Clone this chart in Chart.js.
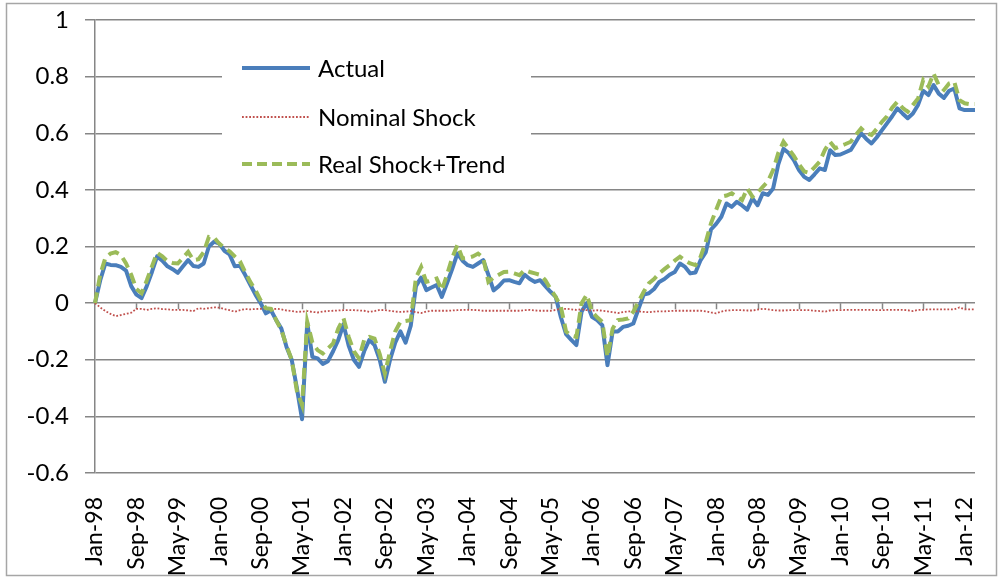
<!DOCTYPE html>
<html><head><meta charset="utf-8">
<script src="https://cdn.jsdelivr.net/npm/chart.js@4.4.1/dist/chart.umd.min.js"></script>
<style>html,body{margin:0;padding:0;background:#fff;}canvas{display:block;}</style>
</head><body>
<canvas id="c" width="1002" height="577"></canvas>
<script>
const monthNames = ['Jan','Feb','Mar','Apr','May','Jun','Jul','Aug','Sep','Oct','Nov','Dec'];
const categories = [];
for (let k = 0; k < 171; k++) {
  const yr = 1998 + Math.floor(k / 12);
  categories.push(monthNames[k % 12] + '-' + String(yr % 100).padStart(2, '0'));
}
const labelEvery = 8;
const seriesNames = ['Actual', 'Nominal Shock', 'Real Shock+Trend'];
const yTickValues = [-0.6, -0.4, -0.2, 0, 0.2, 0.4, 0.6, 0.8, 1];

const actual = [
 0.00,0.08,0.14,0.135,0.134,0.128,0.115,0.06,0.03,0.018,
 0.06,0.11,0.165,0.15,0.13,0.12,0.107,0.13,0.152,0.131,
 0.128,0.14,0.20,0.217,0.21,0.185,0.172,0.13,0.132,0.1,
 0.065,0.03,0.0,-0.036,-0.025,-0.06,-0.09,-0.155,-0.2,-0.3,
 -0.41,-0.07,-0.19,-0.195,-0.215,-0.205,-0.17,-0.13,-0.075,-0.15,
 -0.2,-0.225,-0.17,-0.13,-0.148,-0.2,-0.278,-0.2,-0.14,-0.1,
 -0.14,-0.08,0.06,0.09,0.046,0.055,0.064,0.022,0.07,0.12,
 0.175,0.15,0.134,0.128,0.14,0.152,0.1,0.045,0.06,0.08,
 0.081,0.075,0.07,0.1,0.085,0.075,0.081,0.06,0.04,0.022,
 -0.05,-0.11,-0.13,-0.148,-0.03,0.0,-0.048,-0.06,-0.078,-0.219,
 -0.1,-0.1,-0.084,-0.08,-0.072,-0.02,0.03,0.035,0.05,0.075,
 0.085,0.1,0.11,0.14,0.128,0.105,0.108,0.152,0.18,0.26,
 0.28,0.305,0.352,0.34,0.358,0.345,0.33,0.37,0.346,0.388,
 0.382,0.405,0.49,0.545,0.53,0.505,0.47,0.446,0.435,0.455,
 0.476,0.47,0.54,0.523,0.525,0.533,0.541,0.57,0.6,0.58,
 0.564,0.585,0.61,0.635,0.66,0.688,0.67,0.653,0.67,0.7,
 0.75,0.735,0.77,0.74,0.725,0.75,0.758,0.688,0.682,0.682,
 0.682
];
const nominalShock = [
 0,-0.015,-0.028,-0.038,-0.046,-0.042,-0.038,-0.034,-0.02,-0.02,
 -0.024,-0.02,-0.018,-0.021,-0.022,-0.024,-0.024,-0.024,-0.026,-0.028,
 -0.018,-0.02,-0.018,-0.015,-0.016,-0.021,-0.025,-0.03,-0.025,-0.021,
 -0.022,-0.021,-0.02,-0.019,-0.022,-0.02,-0.022,-0.026,-0.028,-0.031,
 -0.03,-0.028,-0.031,-0.033,-0.03,-0.028,-0.027,-0.026,-0.025,-0.025,
 -0.025,-0.026,-0.027,-0.031,-0.028,-0.024,-0.025,-0.027,-0.03,-0.031,
 -0.03,-0.028,-0.032,-0.035,-0.03,-0.027,-0.027,-0.027,-0.027,-0.026,
 -0.025,-0.024,-0.024,-0.024,-0.025,-0.027,-0.027,-0.027,-0.027,-0.027,
 -0.027,-0.027,-0.027,-0.025,-0.024,-0.026,-0.027,-0.027,-0.027,-0.024,
 -0.02,-0.02,-0.022,-0.024,-0.022,-0.025,-0.027,-0.025,-0.027,-0.029,
 -0.032,-0.035,-0.032,-0.029,-0.029,-0.029,-0.031,-0.032,-0.03,-0.029,
 -0.029,-0.028,-0.027,-0.027,-0.027,-0.027,-0.027,-0.027,-0.029,-0.033,
 -0.036,-0.03,-0.026,-0.025,-0.025,-0.025,-0.026,-0.026,-0.023,-0.02,
 -0.022,-0.025,-0.026,-0.026,-0.025,-0.025,-0.025,-0.025,-0.025,-0.027,
 -0.028,-0.03,-0.026,-0.025,-0.025,-0.024,-0.024,-0.024,-0.024,-0.024,
 -0.024,-0.025,-0.025,-0.024,-0.024,-0.024,-0.024,-0.025,-0.028,-0.024,
 -0.024,-0.022,-0.022,-0.022,-0.022,-0.022,-0.022,-0.015,-0.022,-0.022,
 -0.022
];
const realShockTrend = [
 0.0,0.1,0.16,0.175,0.18,0.17,0.14,0.1,0.05,0.035,
 0.08,0.13,0.178,0.165,0.148,0.142,0.14,0.16,0.181,0.152,
 0.155,0.18,0.234,0.232,0.21,0.195,0.183,0.165,0.148,0.11,
 0.075,0.046,0.01,-0.018,-0.02,-0.06,-0.095,-0.15,-0.2,-0.31,
 -0.36,-0.066,-0.14,-0.166,-0.178,-0.16,-0.142,-0.09,-0.053,-0.119,
 -0.17,-0.195,-0.13,-0.119,-0.125,-0.18,-0.249,-0.17,-0.1,-0.066,
 -0.063,-0.06,0.09,0.128,0.075,0.08,0.087,0.046,0.1,0.16,
 0.205,0.158,0.16,0.165,0.175,0.16,0.075,0.09,0.1,0.11,
 0.111,0.105,0.099,0.117,0.11,0.105,0.1,0.081,0.05,0.022,
 -0.013,-0.1,-0.115,-0.119,0.0,0.03,-0.03,-0.05,-0.066,-0.19,
 -0.09,-0.06,-0.058,-0.054,-0.03,0.005,0.04,0.07,0.085,0.105,
 0.12,0.134,0.15,0.164,0.15,0.14,0.134,0.164,0.217,0.282,
 0.33,0.376,0.38,0.388,0.375,0.364,0.405,0.376,0.39,0.411,
 0.43,0.47,0.53,0.57,0.545,0.52,0.49,0.465,0.46,0.48,
 0.5,0.541,0.57,0.547,0.555,0.562,0.57,0.595,0.617,0.6,
 0.594,0.615,0.64,0.66,0.69,0.711,0.69,0.676,0.7,0.723,
 0.788,0.765,0.811,0.77,0.753,0.776,0.782,0.717,0.706,0.703,
 0.703
];

const COLORS = { actual: '#4A7EBB', nominal: '#C0504D', real: '#9BBB59', grid: '#868686' };
const FONT = 'Lato';

const deco = {
  id: 'deco',
  beforeDatasetsDraw(chart) {
    const { ctx, scales: { x, y } } = chart;
    const y0 = y.getPixelForValue(0);
    ctx.save();
    ctx.strokeStyle = COLORS.grid;
    ctx.lineWidth = 1.5;
    ctx.beginPath();
    for (let i = labelEvery; i < categories.length; i += labelEvery) {
      const px = Math.round(x.getPixelForValue(i)) + 0.5;
      ctx.moveTo(px, y0);
      ctx.lineTo(px, y0 + 6);
    }
    ctx.stroke();
    ctx.restore();
  },
  afterDraw(chart) {
    const { ctx } = chart;
    ctx.save();
    ctx.fillStyle = '#fff';
    ctx.fillRect(222, 38, 309, 151);
    const rows = [
      { name: seriesNames[0], color: COLORS.actual, w: 4, dash: [], yy: 68 },
      { name: seriesNames[1], color: COLORS.nominal, w: 1.8, dash: [1.8, 1.8], yy: 117 },
      { name: seriesNames[2], color: COLORS.real, w: 4, dash: [10, 5], yy: 164 }
    ];
    rows.forEach(r => {
      ctx.strokeStyle = r.color;
      ctx.lineWidth = r.w;
      ctx.setLineDash(r.dash);
      ctx.beginPath();
      ctx.moveTo(242, r.yy);
      ctx.lineTo(310, r.yy);
      ctx.stroke();
      ctx.setLineDash([]);
      ctx.fillStyle = '#000';
      ctx.font = '24px ' + FONT;
      ctx.textBaseline = 'middle';
      ctx.textAlign = 'left';
      ctx.fillText(r.name, 318, r.yy + 1);
    });
    ctx.strokeStyle = '#a6a6a6';
    ctx.lineWidth = 1.5;
    ctx.strokeRect(6.5, 3.5, 990, 572);
    ctx.restore();
  }
};

new Chart(document.getElementById('c'), {
  type: 'line',
  data: {
    labels: categories,
    datasets: [
      { label: seriesNames[0], data: actual, borderColor: COLORS.actual, borderWidth: 4, pointRadius: 0, tension: 0, order: 2, borderJoinStyle: 'round' },
      { label: seriesNames[1], data: nominalShock, borderColor: COLORS.nominal, borderWidth: 1.8, borderDash: [1.8, 1.8], pointRadius: 0, tension: 0, order: 1 },
      { label: seriesNames[2], data: realShockTrend, borderColor: COLORS.real, borderWidth: 4, borderDash: [11, 6], pointRadius: 0, tension: 0, order: 0 }
    ]
  },
  options: {
    responsive: false,
    animation: false,
    layout: { padding: { left: 0, right: 27, top: 20, bottom: 0 } },
    plugins: { legend: { display: false }, tooltip: { enabled: false } },
    scales: {
      x: {
        grid: { display: false },
        border: { display: false },
        ticks: {
          autoSkip: false, maxRotation: 90, minRotation: 90, padding: 16,
          color: '#000', font: { family: FONT, size: 23 },
          callback: (v, i) => (i % labelEvery === 0 ? categories[i] : '')
        },
        afterFit: s => { s.height = 104; s.paddingLeft = 0; s.paddingRight = 0; }
      },
      y: {
        min: yTickValues[0], max: yTickValues[yTickValues.length - 1],
        afterBuildTicks: s => { s.ticks = yTickValues.map(v => ({ value: v })); },
        ticks: {
          padding: 16, color: '#000', font: { family: FONT, size: 24 },
          callback: v => String(Math.round(v * 10) / 10)
        },
        grid: { color: COLORS.grid, lineWidth: 1.5, tickLength: 10 },
        border: { color: COLORS.grid, width: 1.5 },
        afterFit: s => { s.width = 95; s.paddingTop = 0; s.paddingBottom = 0; }
      }
    }
  },
  plugins: [deco]
});
</script>
</body></html>
